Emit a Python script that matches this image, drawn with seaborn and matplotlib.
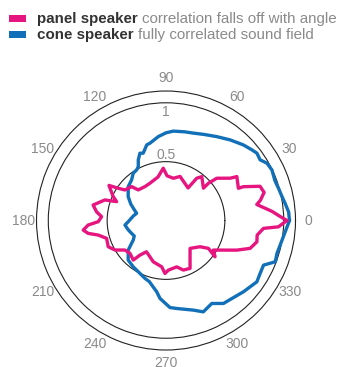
import numpy as np
import pandas as pd
import matplotlib
matplotlib.use("Agg")
import matplotlib.pyplot as plt
import seaborn as sns
from matplotlib.patches import Rectangle

# Correlation vs. angle (degrees) for each speaker type
panel_deg = [0, 2, 5, 10, 12, 16, 20, 23.6, 24, 31.8, 33.4, 39.8, 41.3, 40.8, 50.8, 54,
             55.9, 72.3, 80.2, 88.7, 93, 100.4, 113.3, 121.8, 132.2, 135.4, 143.4, 146,
             148.4, 155.7, 159.1, 161.4, 168, 172.8, 176.6, 181, 183.3, 186.6, 189.4,
             192.1, 196.7, 204.4, 210, 215.7, 222.3, 230.4, 233, 238, 252.9, 264.7,
             268.9, 272.7, 283, 289.3, 296.7, 302.4, 310.8, 322.4, 326.7, 323.5, 328,
             337.3, 341.7, 346.8, 350.9, 355.4, 356.8, 360]
panel_r = [1.027, 0.971, 0.902, 0.783, 0.819, 0.867, 0.850, 0.718, 0.673, 0.708, 0.653,
           0.561, 0.479, 0.42, 0.481, 0.444, 0.334, 0.393, 0.364, 0.38, 0.445, 0.376,
           0.345, 0.339, 0.351, 0.41, 0.435, 0.49, 0.569, 0.492, 0.449, 0.548, 0.633,
           0.595, 0.548, 0.576, 0.662, 0.708, 0.67, 0.589, 0.527, 0.539, 0.501, 0.43,
           0.414, 0.436, 0.368, 0.313, 0.367, 0.395, 0.45, 0.422, 0.404, 0.446, 0.455,
           0.381, 0.313, 0.365, 0.431, 0.518, 0.474, 0.652, 0.753, 0.793, 0.784, 0.831,
           0.957, 1.027]

cone_deg = [0, 4, 8, 12, 16, 20, 25.5, 29.6, 32.8, 36.5, 39.4, 44.3, 51.5, 58.8, 66,
            72.6, 78, 85.3, 90, 95.2, 101.7, 104.3, 108.7, 111.2, 114.6, 117.2, 120.1,
            124.7, 130.3, 138.1, 147.7, 155, 162, 166.2, 172, 181.8, 186.3, 194, 200.5,
            206, 210.8, 218, 226.3, 234.7, 243.8, 250, 254.7, 262.6, 265.6, 272.6, 277,
            287, 292.2, 298.9, 304.7, 317.4, 326, 330.7, 335.4, 339.3, 343.5, 347.9,
            354.6, 360]
cone_r = [1.049, 1.044, 1.023, 1.005, 0.994, 0.985, 0.997, 0.986, 0.951, 0.961, 0.945,
          0.919, 0.875, 0.833, 0.80, 0.778, 0.77, 0.762, 0.745, 0.716, 0.671, 0.663,
          0.604, 0.613, 0.566, 0.515, 0.497, 0.489, 0.452, 0.431, 0.38, 0.33, 0.28,
          0.257, 0.28, 0.321, 0.351, 0.33, 0.312, 0.30, 0.324, 0.407, 0.465, 0.482,
          0.501, 0.523, 0.538, 0.611, 0.664, 0.74, 0.753, 0.796, 0.838, 0.805, 0.857,
          0.894, 0.931, 0.917, 0.911, 0.992, 0.983, 0.992, 1.017, 1.049]

angle_ticks = list(range(0, 360, 30))
radial_ticks = [0.5, 1]
radial_labels = ["0.5", "1"]

PINK = "#E6157F"
BLUE = "#1270B8"
GRAY = "#8a8a8a"
DARK = "#333333"

sns.set_theme(style="white")
plt.rcParams["font.family"] = ["Liberation Sans", "DejaVu Sans"]

fig = plt.figure(figsize=(3.39, 3.67), dpi=100)
ax = fig.add_axes([0.1077, 0.0463, 0.764, 0.7057], projection="polar")

panel = pd.DataFrame({"theta": np.deg2rad(panel_deg), "r": panel_r})
cone = pd.DataFrame({"theta": np.deg2rad(cone_deg), "r": cone_r})

line_kw = dict(sort=False, estimator=None, lw=2.4, ax=ax,
               solid_joinstyle="round", solid_capstyle="round")
sns.lineplot(data=cone, x="theta", y="r", color=BLUE, **line_kw)
sns.lineplot(data=panel, x="theta", y="r", color=PINK, **line_kw)

ax.set_ylim(0, 1.1)
ax.set_xlabel("")
ax.set_ylabel("")
ax.set_xticks(np.deg2rad(angle_ticks))
ax.set_xticklabels([str(a) for a in angle_ticks], color=GRAY, fontsize=10)
ax.tick_params(axis="x", pad=2.5, length=0)
ax.xaxis.grid(False)
ax.set_yticks(radial_ticks)
ax.set_yticklabels([])
ax.yaxis.grid(True, color="#222222", lw=0.8)
ax.spines["polar"].set_color("#222222")
ax.spines["polar"].set_linewidth(0.8)

# radial labels along the 90 degree direction
ax.annotate(radial_labels[0], xy=(np.pi / 2, radial_ticks[0]), xytext=(0, 5),
            textcoords="offset points", ha="center", va="center",
            color=GRAY, fontsize=10)
ax.annotate(radial_labels[1], xy=(np.pi / 2, radial_ticks[1]), xytext=(0, -6.5),
            textcoords="offset points", ha="center", va="center",
            color=GRAY, fontsize=10)

# legend header
W, H = 339, 367
for y0, col in [(15, PINK), (31, BLUE)]:
    fig.patches.append(Rectangle((9 / W, 1 - (y0 + 7.3) / H), 17 / W, 7.3 / H,
                                 transform=fig.transFigure, color=col, lw=0))

entries = [("panel speaker", "correlation falls off with angle", 18.6),
           ("cone speaker", "fully correlated sound field", 34.6)]
for bold, rest, yc in entries:
    t = fig.text(37 / W, 1 - yc / H, bold, fontsize=10.9, fontweight="bold",
                 color=DARK, va="center", ha="left")
    ax.annotate(rest, xy=(1, 0), xycoords=t, xytext=(2.8, 0),
                textcoords="offset points", va="bottom", ha="left",
                fontsize=10.9, color=GRAY, annotation_clip=False)

fig.savefig("out.png", dpi=100)
